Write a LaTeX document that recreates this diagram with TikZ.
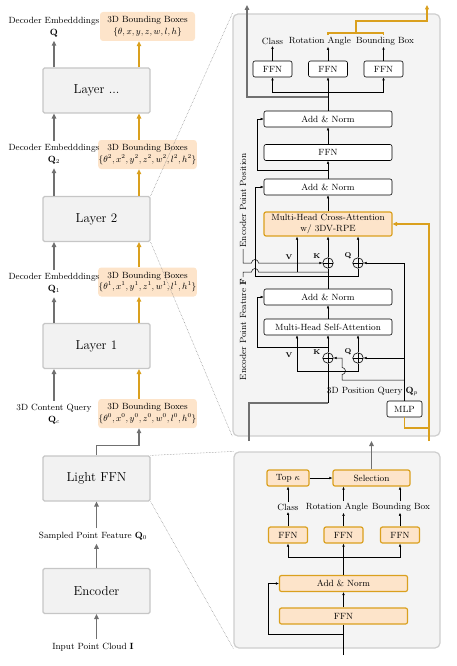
\documentclass[tikz,border=0pt]{standalone}
\usetikzlibrary{arrows.meta}
\definecolor{peach}{RGB}{253,228,202}
\definecolor{boxOrange}{RGB}{218,160,30}
\definecolor{arrowGray}{RGB}{112,112,112}
\definecolor{boxGray}{RGB}{242,242,242}
\definecolor{boxBorder}{RGB}{198,198,198}
\definecolor{panelGray}{RGB}{244,244,244}
\definecolor{panelBorder}{RGB}{206,206,206}
\begin{document}
\begin{tikzpicture}[x=1pt,y=-1pt,
	leftBox/.style={rectangle, rounded corners=1.5pt, draw=boxBorder, line width=1.2pt, fill=boxGray, minimum width=107pt, minimum height=45pt, font=\fontsize{13}{15}\selectfont},
	bboxBox/.style={rectangle, rounded corners=3pt, fill=peach, minimum width=95pt, minimum height=29pt, inner sep=0.5pt, align=center, font=\fontsize{9}{11.5}\selectfont},
	sideText/.style={align=center, inner sep=3.5pt, font=\fontsize{9}{12}\selectfont},
	panel/.style={rectangle, rounded corners=5pt, draw=panelBorder, line width=1.2pt, fill=panelGray},
	panelBox/.style={rectangle, rounded corners=2pt, draw=black, line width=0.6pt, fill=white, minimum height=16pt, inner sep=1pt, font=\fontsize{9}{10.5}\selectfont},
	wideBox/.style={panelBox, minimum width=128pt},
	smallBox/.style={panelBox, minimum width=39pt},
	hotBox/.style={fill=peach, draw=boxOrange, line width=1.2pt},
	panelText/.style={inner sep=1.5pt, font=\fontsize{9}{10.5}\selectfont},
	qkvText/.style={inner sep=1pt, font=\fontsize{7}{8}\selectfont\bfseries},
	plusNode/.style={circle, draw=black, line width=0.6pt, minimum size=10.5pt, inner sep=0pt, path picture={\draw[line width=0.6pt] (path picture bounding box.north) -- (path picture bounding box.south) (path picture bounding box.west) -- (path picture bounding box.east);}},
	thinLine/.style={line width=0.5pt},
	thinArrow/.style={line width=0.5pt, -{Latex[length=3pt,width=2.6pt]}},
	grayLine/.style={line width=1.5pt, draw=arrowGray},
	grayArrow/.style={grayLine, -{Triangle[length=5pt,width=4.5pt]}},
	orangeArrow/.style={line width=1.5pt, draw=boxOrange, -{Triangle[length=5pt,width=4.5pt]}},
	orangeLine/.style={line width=1.2pt, draw=boxOrange},
	orangeThinArrow/.style={orangeLine, -{Triangle[length=4.5pt,width=4pt]}},
	zoomLine/.style={densely dotted, draw=gray, line width=0.5pt}]
	\useasboundingbox (0,0) rectangle (457,666);

	\node[leftBox](layerDotsBox) at (96.5,90.5){Layer ...};
	\node[leftBox](layer2Box) at (96.5,219){Layer 2};
	\node[leftBox](layer1Box) at (96.5,346){Layer 1};
	\node[leftBox](lightFfnBox) at (96.5,478.5){Light FFN};
	\node[leftBox](encoderBox) at (96.5,591){Encoder};

	\node[bboxBox](bboxOut) at (147.5,26.5){3D Bounding Boxes\\$\{\theta,x,y,z,w,l,h\}$};
	\node[bboxBox](bbox2) at (147.5,154.5){3D Bounding Boxes\\$\{\theta^2,x^2,y^2,z^2,w^2,l^2,h^2\}$};
	\node[bboxBox](bbox1) at (147.5,282){3D Bounding Boxes\\$\{\theta^1,x^1,y^1,z^1,w^1,l^1,h^1\}$};
	\node[bboxBox](bbox0) at (147.5,413.5){3D Bounding Boxes\\$\{\theta^0,x^0,y^0,z^0,w^0,l^0,h^0\}$};

	\node[sideText](embOutText) at (54,27){Decoder Embedddings\\$\mathbf{Q}$};
	\node[sideText](emb2Text) at (54,154.5){Decoder Embedddings\\$\mathbf{Q}_2$};
	\node[sideText](emb1Text) at (54,283.5){Decoder Embedddings\\$\mathbf{Q}_1$};
	\node[sideText](contentQueryText) at (54,414.5){3D Content Query\\$\mathbf{Q}_c$};
	\node[sideText](sampledText) at (93,536){Sampled Point Feature $\mathbf{Q}_0$};
	\node[sideText](inputText) at (93,647){Input Point Cloud $\mathbf{I}$};

	\draw[grayArrow] (layerDotsBox.north -| embOutText) -- (embOutText.south);
	\draw[grayArrow] (emb2Text.north) -- (emb2Text.north |- layerDotsBox.south);
	\draw[grayArrow] (layer2Box.north -| emb2Text) -- (emb2Text.south);
	\draw[grayArrow] (emb1Text.north) -- (emb1Text.north |- layer2Box.south);
	\draw[grayArrow] (layer1Box.north -| emb1Text) -- (emb1Text.south);
	\draw[grayArrow] (contentQueryText.north) -- (contentQueryText.north |- layer1Box.south);
	\draw[orangeArrow] ([xshift=-8.5pt]bboxOut.south |- layerDotsBox.north) -- ([xshift=-8.5pt]bboxOut.south);
	\draw[orangeArrow] ([xshift=-8.5pt]bbox2.north) -- ([xshift=-8.5pt]bbox2.north |- layerDotsBox.south);
	\draw[orangeArrow] ([xshift=-8.5pt]bbox2.south |- layer2Box.north) -- ([xshift=-8.5pt]bbox2.south);
	\draw[orangeArrow] ([xshift=-8.5pt]bbox1.north) -- ([xshift=-8.5pt]bbox1.north |- layer2Box.south);
	\draw[orangeArrow] ([xshift=-8.5pt]bbox1.south |- layer1Box.north) -- ([xshift=-8.5pt]bbox1.south);
	\draw[orangeArrow] ([xshift=-8.5pt]bbox0.north) -- ([xshift=-8.5pt]bbox0.north |- layer1Box.south);
	\draw[grayArrow] (lightFfnBox.north) -- ++(0,-10) -| ([xshift=-8.5pt]bbox0.south);
	\draw[grayArrow] (sampledText.north -| lightFfnBox) -- (lightFfnBox.south);
	\draw[grayArrow] (encoderBox.north) -- (encoderBox.north |- sampledText.south);
	\draw[grayArrow] (inputText.north -| encoderBox) -- (encoderBox.south);

	\node[panel, minimum width=207pt, minimum height=422pt](topPanel) at (336.5,225){};
	\node[panel, minimum width=206pt, minimum height=196pt](bottomPanel) at (337,550){};
	\draw[zoomLine] (layer2Box.north east) -- (topPanel.north west);
	\draw[zoomLine] (layer2Box.south east) -- (topPanel.south west);
	\draw[zoomLine] (lightFfnBox.north east) -- (bottomPanel.north west);
	\draw[zoomLine] (lightFfnBox.south east) -- (bottomPanel.south west);

	\node[smallBox](clsFfnBox) at (272.5,69){FFN};
	\node[smallBox](rotFfnBox) at (328,69){FFN};
	\node[smallBox](boxFfnBox) at (383.5,69){FFN};
	\node[panelText](clsText) at (272.5,41){Class};
	\node[panelText](rotText) at (320,41){Rotation Angle};
	\node[panelText](boxText) at (385,41){Bounding Box};
	\node[wideBox](addNorm3Box) at (328,119){Add \& Norm};
	\node[wideBox](ffnMainBox) at (328,152.5){FFN};
	\node[wideBox](addNorm2Box) at (328,187){Add \& Norm};
	\node[wideBox, hotBox, minimum height=24pt, align=center](crossAttnBox) at (328,224){Multi-Head Cross-Attention\\w/ 3DV-RPE};
	\node[wideBox](addNorm1Box) at (328,297){Add \& Norm};
	\node[wideBox](selfAttnBox) at (328,327){Multi-Head Self-Attention};
	\node[plusNode](kCrossPlus) at (328,263){};
	\node[plusNode](qCrossPlus) at (358,263){};
	\node[plusNode](kSelfPlus) at (328,358){};
	\node[plusNode](qSelfPlus) at (358,358){};
	\node[qkvText](vCrossText) at (289,257){V};
	\node[qkvText](kCrossText) at (317,256){K};
	\node[qkvText](qCrossText) at (348,256){Q};
	\node[qkvText](vSelfText) at (289,355){V};
	\node[qkvText](kSelfText) at (317,352){K};
	\node[qkvText](qSelfText) at (348,352){Q};
	\node[smallBox, minimum width=35pt](mlpBox) at (404.5,409){MLP};
	\node[panelText](posQueryText) at (372.5,391){3D Position Query $\mathbf{Q}_p$};
	\node[panelText, rotate=90, anchor=west](encPosText) at (243,249){Encoder Point Position};
	\node[panelText, rotate=90, anchor=east](encFeatText) at (243,277){Encoder Point Feature $\mathbf{F}$};

	\coordinate (outTop) at (247,5);
	\coordinate (outSplit) at (328,97);
	\coordinate (ffnSplit) at (328,92);
	\coordinate (bracketMid) at (356,33);
	\coordinate (bboxOutTop) at (427,5);
	\coordinate (res3Start) at (328,170);
	\coordinate (res2Start) at (328,276);
	\coordinate (vCrossStart) at (297,272);
	\coordinate (res1Start) at (328,347);
	\coordinate (vSelfStart) at (297,371);
	\coordinate (kBranch) at (404.5,380);
	\coordinate (mainIn) at (249,441);
	\coordinate (mainCorner) at (328,403);
	\coordinate (bboxIn) at (429,441);
	\coordinate (mlpFeed) at (429,428);

	\draw[thinArrow] (addNorm3Box.north) -- (rotFfnBox.south);
	\draw[thinArrow] (ffnSplit) -| (clsFfnBox.south);
	\draw[thinArrow] (ffnSplit) -| (boxFfnBox.south);
	\draw[grayArrow] (outSplit) -| (outTop);
	\draw[thinArrow] (clsFfnBox.north) -- (clsText.south);
	\draw[thinArrow] (rotFfnBox.north) -- (rotFfnBox.north |- rotText.south);
	\draw[thinArrow] (boxFfnBox.north) -- (boxFfnBox.north |- boxText.south);
	\draw[orangeLine] (rotFfnBox.north |- rotText.north) -- (rotFfnBox.north |- bracketMid) -- (boxFfnBox.north |- bracketMid) -- (boxFfnBox.north |- boxText.north);
	\draw[orangeThinArrow] (bracketMid) -- ++(0,-12) -| (bboxOutTop);
	\draw[thinArrow] (ffnMainBox.north) -- (addNorm3Box.south);
	\draw[thinArrow] (addNorm2Box.north) -- (ffnMainBox.south);
	\draw[thinArrow] (res3Start) -- ++(-71,0) |- (addNorm3Box.west);
	\draw[thinArrow] (crossAttnBox.north) -- (addNorm2Box.south);
	\draw[thinArrow] (res2Start) -- ++(-73,0) |- (addNorm2Box.west);
	\draw[thinLine] (res2Start) -| (qCrossPlus.south);
	\draw[thinLine] (addNorm1Box.north) -- (kCrossPlus.south);
	\draw[thinArrow] (kCrossPlus.north) -- (kCrossPlus.north |- crossAttnBox.south);
	\draw[thinArrow] (qCrossPlus.north) -- (qCrossPlus.north |- crossAttnBox.south);
	\draw[thinArrow] (vCrossStart) -- (vCrossStart |- crossAttnBox.south);
	\draw[thinArrow] (encPosText.west) -- (encPosText.west |- kCrossPlus) -- ++(8.5,0) arc[start angle=180, end angle=360, radius=3.5] -- (kCrossPlus.west);
	\draw[thinLine] (encFeatText.east) -- (encFeatText.east |- vCrossStart) -- ++(8.5,0) arc[start angle=180, end angle=360, radius=3.5] -- (kCrossPlus.south |- vCrossStart);
	\draw[thinArrow] (mlpBox.north) |- (qCrossPlus.east);
	\draw[thinArrow] (mlpBox.north |- qSelfPlus) -- (qSelfPlus.east);
	\draw[thinArrow] (kBranch) -- ++(-62.5,0) -- ++(0,-5.5) arc[start angle=90, end angle=-90, radius=3.5] |- (kSelfPlus.east);
	\draw[thinArrow] (selfAttnBox.north) -- (addNorm1Box.south);
	\draw[thinArrow] (res1Start) -- ++(-71,0) |- (addNorm1Box.west);
	\draw[thinArrow] (kSelfPlus.north) -- (kSelfPlus.north |- selfAttnBox.south);
	\draw[thinArrow] (qSelfPlus.north) -- (qSelfPlus.north |- selfAttnBox.south);
	\draw[thinArrow] (vSelfStart) -- (vSelfStart |- selfAttnBox.south);
	\draw[thinLine] (vSelfStart) -| (qSelfPlus.south);
	\draw[grayLine] (mainIn) |- (mainCorner);
	\draw[thinLine] (mainCorner) -- (kSelfPlus.south);
	\draw[orangeThinArrow] (bboxIn) |- (crossAttnBox.east);
	\draw[orangeLine] (mlpFeed) -| (mlpBox.south);

	\node[smallBox, hotBox, minimum width=42pt](topKBox) at (288,478){Top $\kappa$};
	\node[smallBox, hotBox, minimum width=77pt](selectBox) at (371.5,478){Selection};
	\node[panelText](clsTextB) at (288,507){Class};
	\node[panelText](rotTextB) at (337,507){Rotation Angle};
	\node[panelText](boxTextB) at (401,507){Bounding Box};
	\node[smallBox, hotBox](clsFfnBoxB) at (288,535){FFN};
	\node[smallBox, hotBox](rotFfnBoxB) at (343.5,535){FFN};
	\node[smallBox, hotBox](boxFfnBoxB) at (400,535){FFN};
	\node[wideBox, hotBox](addNormBoxB) at (343.5,583.5){Add \& Norm};
	\node[wideBox, hotBox](ffnBoxB) at (343.5,616){FFN};

	\coordinate (selectOut) at (371.5,441);
	\coordinate (ffnSplitB) at (343.5,557);
	\coordinate (ffnIn) at (343.5,655);
	\coordinate (resBStart) at (343.5,634);

	\draw[thinArrow] (topKBox.east) -- (selectBox.west);
	\draw[grayArrow] (selectBox.north) -- (selectOut);
	\draw[thinArrow] (clsFfnBoxB.north) -- (clsTextB.south);
	\draw[thinArrow] (clsTextB.north) -- (topKBox.south);
	\draw[thinArrow] (rotFfnBoxB.north) -- (rotFfnBoxB.north |- rotTextB.south);
	\draw[thinArrow] (rotFfnBoxB.north |- rotTextB.north) -- (rotFfnBoxB.north |- selectBox.south);
	\draw[thinArrow] (boxFfnBoxB.north) -- (boxFfnBoxB.north |- boxTextB.south);
	\draw[thinArrow] (boxFfnBoxB.north |- boxTextB.north) -- (boxFfnBoxB.north |- selectBox.south);
	\draw[thinArrow] (addNormBoxB.north) -- (rotFfnBoxB.south);
	\draw[thinArrow] (ffnSplitB) -| (clsFfnBoxB.south);
	\draw[thinArrow] (ffnSplitB) -| (boxFfnBoxB.south);
	\draw[thinArrow] (ffnBoxB.north) -- (addNormBoxB.south);
	\draw[thinLine] (ffnIn) -- (ffnBoxB.south);
	\draw[thinArrow] (resBStart) -- ++(-75,0) |- (addNormBoxB.west);
\end{tikzpicture}
\end{document}
